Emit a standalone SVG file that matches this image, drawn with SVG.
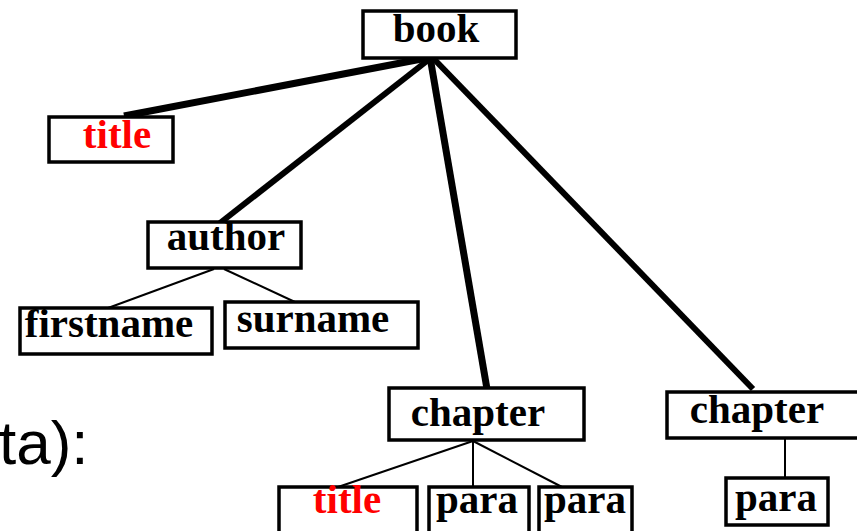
<svg xmlns="http://www.w3.org/2000/svg" width="857" height="531" viewBox="0 0 857 531">
<style>
.box{fill:#fff;stroke:#000;stroke-width:3.5}
.lbl{font-family:"Liberation Serif","Times New Roman",serif;font-weight:bold;font-size:41px;fill:#000;text-anchor:middle}
.red{fill:#ff0000}
.thick{stroke:#000;stroke-linecap:butt;fill:none}
.thin{stroke:#000;stroke-width:2;fill:none}
.side{font-family:"Liberation Sans",Arial,sans-serif;font-size:62px;fill:#000}
</style>
<rect width="857" height="531" fill="#fff"/>
<text class="side" x="-1" y="464">ta):</text>
<g id="connectors">
<line class="thick" stroke-width="7" x1="432" y1="57" x2="124" y2="116"/>
<line class="thick" stroke-width="6" x1="432" y1="57" x2="220" y2="223"/>
<line class="thick" stroke-width="7" x1="430" y1="57" x2="487" y2="389"/>
<line class="thick" stroke-width="6" x1="432" y1="57" x2="753" y2="389"/>
<line class="thin" x1="214" y1="269" x2="108" y2="308"/>
<line class="thin" x1="224" y1="269" x2="295" y2="302"/>
<line class="thin" x1="473" y1="441" x2="338" y2="487"/>
<line class="thin" x1="473" y1="441" x2="473" y2="487"/>
<line class="thin" x1="473" y1="441" x2="562" y2="487"/>
<line class="thin" x1="785" y1="433" x2="785" y2="478"/>
</g>
<g id="book">
<rect class="box" x="363" y="11" width="153" height="47"/>
<text class="lbl" x="436" y="42">book</text>
</g>
<g id="title1">
<rect class="box" x="49" y="117" width="124" height="45"/>
<text class="lbl red" x="117" y="148">title</text>
</g>
<g id="author">
<rect class="box" x="148" y="222" width="153" height="46"/>
<text class="lbl" x="226" y="250">author</text>
</g>
<g id="firstname">
<rect class="box" x="20" y="308" width="192" height="46"/>
<text class="lbl" x="109" y="337">firstname</text>
</g>
<g id="surname">
<rect class="box" x="225" y="302" width="193" height="46"/>
<text class="lbl" x="313" y="332">surname</text>
</g>
<g id="chapter1">
<rect class="box" x="389" y="388" width="195" height="52"/>
<text class="lbl" x="478" y="426">chapter</text>
</g>
<g id="chapter2">
<rect class="box" x="667" y="392" width="200" height="46"/>
<text class="lbl" x="757" y="423">chapter</text>
</g>
<g id="title2">
<rect class="box" x="279" y="487" width="138" height="60"/>
<text class="lbl red" x="347" y="513">title</text>
</g>
<g id="para1">
<rect class="box" x="429" y="487" width="100" height="60"/>
<text class="lbl" x="477" y="513">para</text>
</g>
<g id="para2">
<rect class="box" x="539" y="487" width="93" height="60"/>
<text class="lbl" x="585" y="513">para</text>
</g>
<g id="para3">
<rect class="box" x="726" y="478" width="102" height="47"/>
<text class="lbl" x="776" y="511">para</text>
</g>
</svg>
